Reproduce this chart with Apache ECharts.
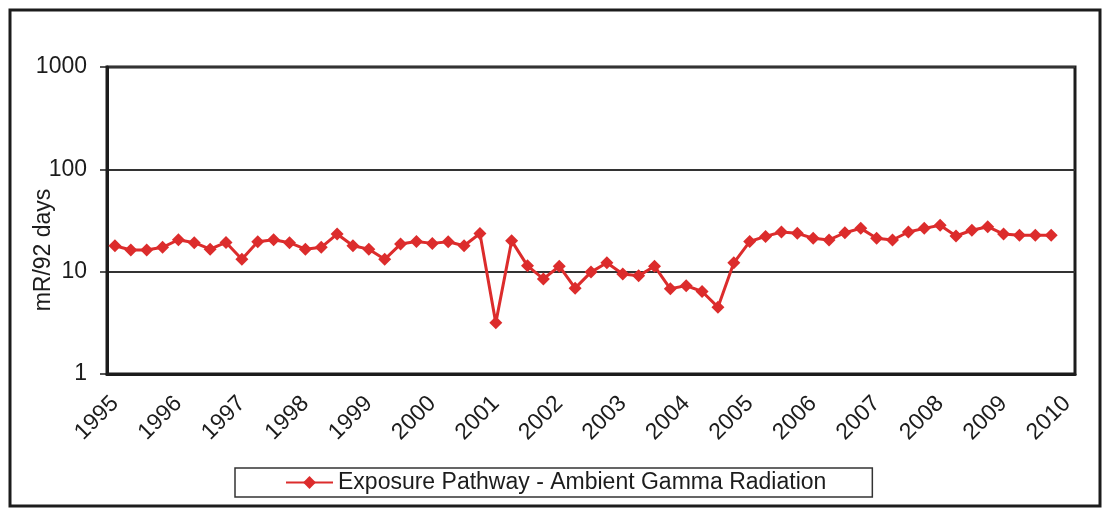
<!DOCTYPE html>
<html>
<head>
<meta charset="utf-8">
<script src="https://cdn.jsdelivr.net/npm/echarts@6/dist/echarts.min.js"></script>
<style>
  html, body { margin: 0; padding: 0; background: #fff; }
  #chart { width: 1104px; height: 508px; }
</style>
</head>
<body>
<div id="chart"></div>
<script>
// quarterly readings, 1995 Q1 .. 2009 Q4 (axis runs to 2010 Q1)
const years = ['1995','1996','1997','1998','1999','2000','2001','2002','2003','2004','2005','2006','2007','2008','2009','2010'];
const quarters = ['Q1','Q2','Q3','Q4'];
const exposure = [
  17.9, 16.3, 16.3, 17.3, 20.5, 19.2, 16.6, 19.3,
  13.2, 19.6, 20.5, 19.2, 16.6, 17.3, 23.3, 17.9,
  16.6, 13.2, 18.6, 19.7, 18.9, 19.6, 17.9, 23.6,
  3.16, 20.0, 11.4, 8.5, 11.3, 6.9, 9.9, 12.2,
  9.5, 9.1, 11.3, 6.8, 7.3, 6.4, 4.5, 12.2,
  19.7, 22.1, 24.4, 23.7, 21.2, 20.4, 24.0, 26.5,
  21.2, 20.4, 24.4, 26.5, 28.4, 22.3, 25.4, 27.5,
  23.3, 22.7, 22.7, 22.7
];
const seriesName = 'Exposure Pathway - Ambient Gamma Radiation';

// category list: every quarter, last one is 2010 Q1
const categories = [];
years.forEach(y => quarters.forEach(q => categories.push(y + ' ' + q)));
categories.length = 61;

const ink = '#1c1c1c';
const red = '#dc2c2c';
const font = 'Liberation Sans, Arial, sans-serif';
const fs = 23;

const myChart = echarts.init(document.getElementById('chart'));
myChart.setOption({
  animation: false,
  textStyle: { fontFamily: font },
  grid: {
    left: 107,
    right: 29,
    top: 67,
    bottom: 134,
    show: true,
    borderColor: ink,
    borderWidth: 3
  },
  xAxis: {
    type: 'category',
    data: categories,
    boundaryGap: true,
    axisLine: { lineStyle: { color: ink, width: 3 } },
    axisTick: {
      interval: 0,
      length: 6,
      lineStyle: { color: ink, width: 1.5 }
    },
    axisLabel: {
      interval: 3,
      rotate: 45,
      margin: 26,
      fontSize: fs,
      color: ink,
      fontFamily: font,
      formatter: v => v.slice(0, 4)
    }
  },
  yAxis: {
    type: 'log',
    logBase: 10,
    min: 1,
    max: 1000,
    axisLine: { show: true, lineStyle: { color: ink, width: 3 } },
    axisTick: { show: true, length: 7, lineStyle: { color: ink, width: 1.5 } },
    axisLabel: {
      fontSize: fs,
      color: ink,
      margin: 20,
      fontFamily: font,
      formatter: v => String(Math.round(v))
    },
    splitLine: { show: true, lineStyle: { color: '#333', width: 1.8 } }
  },
  legend: {
    left: 235,
    top: 468,
    padding: [3, 46, 3, 50],
    borderColor: '#333',
    borderWidth: 1.5,
    itemWidth: 47,
    itemHeight: 16,
    textStyle: { fontSize: fs, color: ink, fontFamily: font },
    data: [seriesName]
  },
  graphic: [
    {
      type: 'rect',
      shape: { x: 10, y: 10, width: 1090, height: 496 },
      style: { fill: 'none', stroke: ink, lineWidth: 3 },
      silent: true
    },
    {
      type: 'text',
      x: 44,
      y: 250,
      rotation: Math.PI / 2,
      style: {
        text: 'mR/92 days',
        font: fs + 'px ' + font,
        fill: ink,
        textAlign: 'center',
        textVerticalAlign: 'middle'
      }
    }
  ],
  series: [
    {
      name: seriesName,
      type: 'line',
      data: exposure,
      symbol: 'diamond',
      symbolSize: 13,
      showAllSymbol: true,
      lineStyle: { color: red, width: 3 },
      itemStyle: { color: red }
    }
  ]
});
</script>
</body>
</html>
